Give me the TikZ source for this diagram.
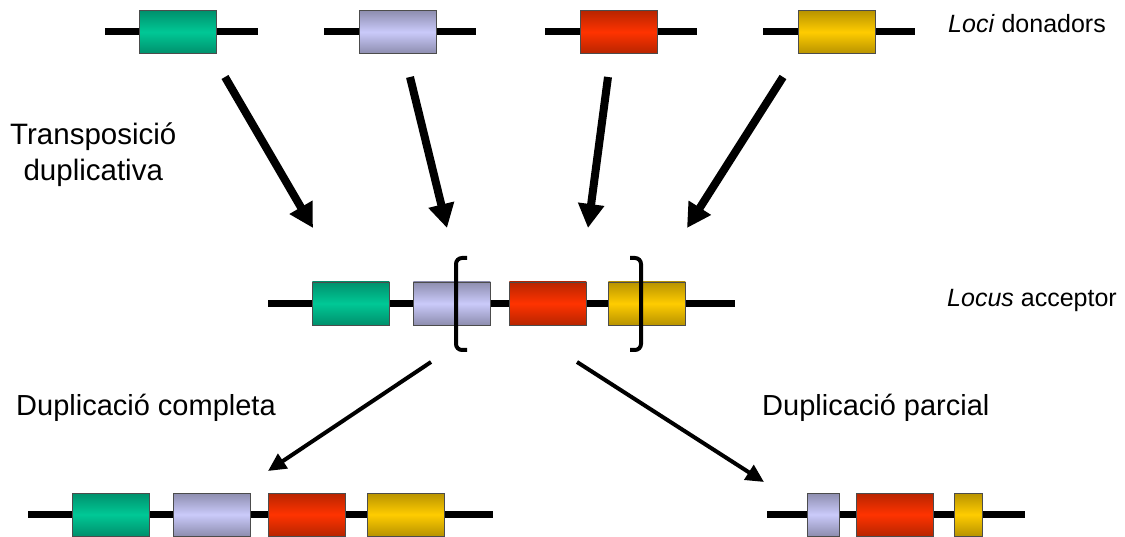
\documentclass[tikz,border=0pt]{standalone}
\usepackage{fontspec}
\setmainfont{Liberation Sans}
\usetikzlibrary{arrows.meta}
\definecolor{cgreen}{HTML}{00C896}
\definecolor{clilac}{HTML}{CACAFA}
\definecolor{cred}{HTML}{FF3300}
\definecolor{cyellow}{HTML}{FFCC00}
\tikzset{
  gene/.style={draw=black!70, line width=0.9pt, minimum width=77pt, minimum height=43pt, inner sep=0pt, anchor=west},
  ggreen/.style={gene, top color=cgreen!72!black, bottom color=cgreen!72!black, middle color=cgreen},
  glilac/.style={gene, top color=clilac!70!black, bottom color=clilac!70!black, middle color=clilac},
  gred/.style={gene, top color=cred!72!black, bottom color=cred!72!black, middle color=cred},
  gyellow/.style={gene, top color=cyellow!72!black, bottom color=cyellow!72!black, middle color=cyellow},
  dna/.style={line width=7pt, black},
  bigarrow/.style={line width=8pt, -{Triangle[length=24pt,width=25pt]}},
  smallarrow/.style={line width=4pt, -{Triangle[length=18pt,width=17pt]}},
  bracketline/.style={line width=4pt, rounded corners=6pt},
  lbl/.style={font=\fontsize{29}{31}\selectfont, inner sep=0pt, anchor=base west},
  lbltr/.style={font=\fontsize{29.5}{31}\selectfont, inner sep=0pt, anchor=base west},
  lblsmall/.style={font=\fontsize{25}{28}\selectfont, inner sep=0pt, anchor=base west},
}
\begin{document}
\begin{tikzpicture}[x=1pt, y=-1pt]
\useasboundingbox (0,0) rectangle (1125,537);
% ---- donor loci lines
\coordinate (d1a) at (105,32); \coordinate (d1b) at (258,32);
\coordinate (d2a) at (324,32); \coordinate (d2b) at (476,32);
\coordinate (d3a) at (545,32); \coordinate (d3b) at (697,32);
\coordinate (d4a) at (763,32); \coordinate (d4b) at (915,32);
\draw[dna] (d1a) -- (d1b);
\draw[dna] (d2a) -- (d2b);
\draw[dna] (d3a) -- (d3b);
\draw[dna] (d4a) -- (d4b);
\node[ggreen]  (t1) at (139,32) {};
\node[glilac]  (t2) at (359,32) {};
\node[gred]    (t3) at (580,32) {};
\node[gyellow] (t4) at (798,32) {};
% ---- acceptor locus
\coordinate (ma) at (268,303.5); \coordinate (mb) at (735,303.5);
\draw[dna] (ma) -- (mb);
\node[ggreen]  (m1) at (312,303.5) {};
\node[glilac]  (m2) at (413,303.5) {};
\node[gred]    (m3) at (509,303.5) {};
\node[gyellow] (m4) at (608,303.5) {};
% brackets
\draw[bracketline] (467,258) -- (456,258) -- (456,350) -- (467,350);
\draw[bracketline] (630,258) -- (641,258) -- (641,350) -- (630,350);
% ---- complete duplication
\coordinate (ba) at (28,514.5); \coordinate (bb) at (493,514.5);
\draw[dna] (ba) -- (bb);
\node[ggreen]  (b1) at (72,514.5) {};
\node[glilac]  (b2) at (173,514.5) {};
\node[gred]    (b3) at (268,514.5) {};
\node[gyellow] (b4) at (367,514.5) {};
% ---- partial duplication
\coordinate (pa) at (767,514.5); \coordinate (pb) at (1025,514.5);
\draw[dna] (pa) -- (pb);
\node[glilac, minimum width=32pt]  (p1) at (807,514.5) {};
\node[gred]                        (p2) at (856,514.5) {};
\node[gyellow, minimum width=28pt] (p3) at (954,514.5) {};
% ---- thick arrows
\coordinate (a1s) at (225,77); \coordinate (a1e) at (313,228);
\coordinate (a2s) at (410,77); \coordinate (a2e) at (447,228);
\coordinate (a3s) at (608,77); \coordinate (a3e) at (588,228);
\coordinate (a4s) at (783,77); \coordinate (a4e) at (687,228);
\draw[bigarrow] (a1s) -- (a1e);
\draw[bigarrow] (a2s) -- (a2e);
\draw[bigarrow] (a3s) -- (a3e);
\draw[bigarrow] (a4s) -- (a4e);
% ---- thin arrows
\coordinate (s1s) at (431,362); \coordinate (s1e) at (268,471);
\coordinate (s2s) at (577,362); \coordinate (s2e) at (764,482);
\draw[smallarrow] (s1s) -- (s1e);
\draw[smallarrow] (s2s) -- (s2e);
% ---- labels
\node[lblsmall] (ldon) at (948,33) {\textit{Loci} donadors};
\node[lblsmall] (lacc) at (947,307) {\textit{Locus} acceptor};
\node[lbltr] (ltr1) at (10,145) {Transposició};
\node[lbltr, anchor=base] (ltr2) at (ltr1.base |- 0,181) {duplicativa};
\node[lbl] (lcom) at (16,415) {Duplicació completa};
\node[lbl] (lpar) at (762,415) {Duplicació parcial};
\end{tikzpicture}
\end{document}
